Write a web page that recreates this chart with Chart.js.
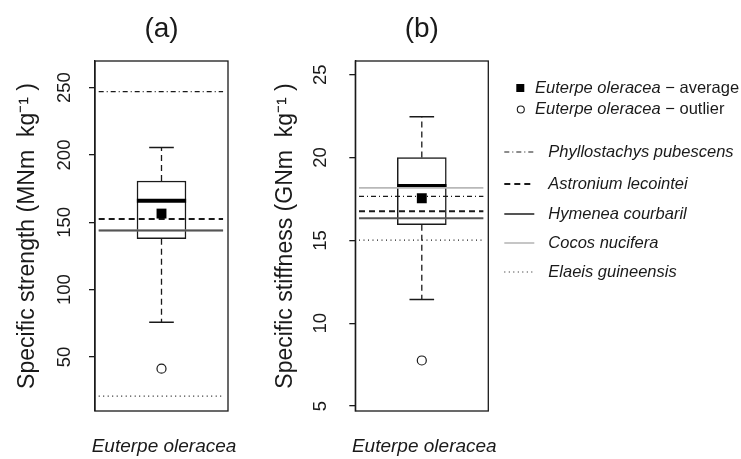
<!DOCTYPE html>
<html>
<head>
<meta charset="utf-8">
<script src="https://cdn.jsdelivr.net/npm/chart.js@4.4.1/dist/chart.umd.min.js"></script>
<style>
  html, body { margin: 0; padding: 0; background: #fff; }
  #wrap { position: relative; width: 741px; height: 459px; }
  canvas { position: absolute; top: 0; }
  #chartA { left: 0; }
  #chartB { left: 250px; }
</style>
</head>
<body>
<div id="wrap">
  <canvas id="chartA" width="250" height="459"></canvas>
  <canvas id="chartB" width="491" height="459"></canvas>
</div>
<script>
const FONT = "'Liberation Sans', Arial, Helvetica, sans-serif";
const INK = '#1a1a1a';

const category = 'Euterpe oleracea';
const panelTitles = ['(a)', '(b)'];
const yTitles = ['Specific strength (MNm  kg\u207B\u00B9 )', 'Specific stiffness (GNm  kg\u207B\u00B9 )'];
const refSpecies = ['Phyllostachys pubescens', 'Astronium lecointei', 'Hymenea courbaril', 'Cocos nucifera', 'Elaeis guineensis'];

// box stats: lower whisker, Q1, median, Q3, upper whisker
const strengthStats = [75.8, 137.9, 166, 180.7, 205.5];
const strengthMean = [156.5];
const strengthOutliers = [41.3];
const strengthRefs = [247, 152.5, 144, 144, 21];
const strengthTicks = [50, 100, 150, 200, 250];

const stiffnessStats = [11.43, 15.95, 18.29, 20.0, 22.47];
const stiffnessMean = [17.54];
const stiffnessOutliers = [7.75];
const stiffnessRefs = [17.66, 16.76, 16.33, 18.17, 15.02];
const stiffnessTicks = [5, 10, 15, 20, 25];

// look of each reference line, same order as refSpecies
const refStyles = [
  { color: INK, width: 1.2, dash: [5, 3, 1, 3] },
  { color: INK, width: 2, dash: [6, 4] },
  { color: '#555', width: 2, dash: [] },
  { color: '#b8b8b8', width: 1.6, dash: [] },
  { color: INK, width: 1.2, dash: [1, 3.5] }
];

const LINE_FROM = 0.49, LINE_TO = 1.5;
const legendRows = [152, 184, 214, 243, 272];

function boxDatasets(stats, mean, outliers, refs) {
  const [lo, q1, med, q3, hi] = stats;
  const sets = [
    { type: 'bar', data: [{ x: 1, y: [q1, q3] }], backgroundColor: '#fff', borderColor: INK,
      borderWidth: 1.5, borderSkipped: false, barThickness: 49, order: 20 },
    // whiskers
    { type: 'line', data: [{ x: 1, y: q3 }, { x: 1, y: hi }, { x: 1, y: null }, { x: 1, y: q1 }, { x: 1, y: lo }],
      borderColor: INK, borderWidth: 1.3, borderDash: [6, 4], order: 19 },
    // caps
    { type: 'line', data: [{ x: 0.9, y: hi }, { x: 1.1, y: hi }, { x: 1, y: null }, { x: 0.9, y: lo }, { x: 1.1, y: lo }],
      borderColor: INK, borderWidth: 1.5, order: 19 },
    // median
    { type: 'line', data: [{ x: 0.8, y: med }, { x: 1.2, y: med }], borderColor: '#000', borderWidth: 4, order: 18 }
  ];
  refs.forEach((v, i) => {
    const st = refStyles[i];
    sets.push({ type: 'line', label: refSpecies[i], data: [{ x: LINE_FROM, y: v }, { x: LINE_TO, y: v }],
      borderColor: st.color, borderWidth: st.width, borderDash: st.dash, order: 5 + i });
  });
  sets.push({ type: 'line', label: 'average', data: mean.map(v => ({ x: 1, y: v })), showLine: false,
    pointStyle: 'rect', pointRadius: 7, backgroundColor: '#000', borderColor: '#000', borderWidth: 0, order: 1 });
  sets.push({ type: 'line', label: 'outlier', data: outliers.map(v => ({ x: 1, y: v })), showLine: false,
    pointStyle: 'circle', pointRadius: 4.5, backgroundColor: '#fff', borderColor: INK, borderWidth: 1.2, order: 1 });
  return sets;
}

// plot frame + category name under it (the axis title would be squeezed to the plot width)
const framePlugin = {
  id: 'frame',
  afterDatasetsDraw(chart) {
    const { ctx, chartArea: a } = chart;
    ctx.save();
    ctx.strokeStyle = INK;
    ctx.lineWidth = 1.3;
    ctx.strokeRect(a.left, a.top, a.right - a.left, a.bottom - a.top);
    ctx.font = `italic 19px ${FONT}`;
    ctx.fillStyle = INK;
    ctx.textAlign = 'center';
    ctx.textBaseline = 'middle';
    ctx.fillText(category, (a.left + a.right) / 2 + 2.5, 447);
    ctx.restore();
  }
};

// legend to the right of panel (b)
const legendPlugin = {
  id: 'sideLegend',
  afterDraw(chart) {
    const ctx = chart.ctx;
    const x0 = chart.chartArea.right;
    const ds = chart.data.datasets;
    const size = 16.5;
    ctx.save();
    ctx.textBaseline = 'middle';
    ctx.fillStyle = INK;

    const twoPart = (x, y, it, rest) => {
      ctx.font = `italic ${size}px ${FONT}`;
      ctx.fillText(it, x, y);
      const w = ctx.measureText(it).width;
      ctx.font = `${size}px ${FONT}`;
      ctx.fillText(rest, x + w, y);
    };

    // average marker
    ctx.fillStyle = '#000';
    ctx.fillRect(x0 + 28, 84, 8, 8);
    ctx.fillStyle = INK;
    twoPart(x0 + 46.7, 88, category, ' \u2212 average');
    // outlier marker
    ctx.beginPath();
    ctx.arc(x0 + 32.5, 109.5, 3.5, 0, Math.PI * 2);
    ctx.strokeStyle = INK;
    ctx.lineWidth = 1.1;
    ctx.stroke();
    twoPart(x0 + 46.7, 109.5, category, ' \u2212 outlier');

    ds.filter(d => refSpecies.includes(d.label)).forEach((d, i) => {
      const y = legendRows[i];
      ctx.beginPath();
      ctx.setLineDash(d.borderDash);
      ctx.strokeStyle = d.borderColor;
      ctx.lineWidth = d.borderWidth;
      ctx.moveTo(x0 + 16, y);
      ctx.lineTo(x0 + 46, y);
      ctx.stroke();
      ctx.setLineDash([]);
      ctx.font = `italic ${size}px ${FONT}`;
      ctx.fillStyle = INK;
      ctx.fillText(d.label, x0 + 60, y);
    });
    ctx.restore();
  }
};

function makeChart(id, cfg) {
  return new Chart(document.getElementById(id), {
    type: 'bar',
    data: { datasets: boxDatasets(cfg.stats, cfg.mean, cfg.outliers, cfg.refs) },
    options: {
      responsive: false,
      animation: false,
      layout: { padding: { left: 0, top: 0, bottom: 48, right: cfg.padRight } },
      elements: { point: { radius: 0 }, line: { tension: 0 } },
      plugins: {
        legend: { display: false },
        tooltip: { enabled: false },
        title: {
          display: true, text: cfg.title, fullSize: false, color: INK,
          font: { family: FONT, size: 28, weight: 'normal' },
          padding: { top: 12, bottom: 15.4 }
        }
      },
      scales: {
        x: { type: 'linear', min: 0.46, max: 1.54, offset: false, display: false },
        y: {
          type: 'linear', position: 'left', min: cfg.min, max: cfg.max,
          afterBuildTicks: s => { s.ticks = cfg.ticks.map(v => ({ value: v })); },
          afterFit: s => { s.width = cfg.axisWidth; },
          ticks: { color: INK, font: { family: FONT, size: 18.5 }, minRotation: 90, maxRotation: 90,
            crossAlign: 'center', padding: cfg.tickPad, autoSkip: false },
          grid: { display: true, drawOnChartArea: false, drawTicks: true, tickLength: 6, color: INK, lineWidth: 1.3 },
          border: { display: true, color: INK, width: 1.3 },
          title: { display: true, text: cfg.yTitle, align: 'center', color: INK,
            font: { family: FONT, size: 23 }, padding: { top: cfg.titlePad, bottom: 0 } }
        }
      }
    },
    plugins: cfg.legend ? [framePlugin, legendPlugin] : [framePlugin]
  });
}

makeChart('chartA', {
  title: panelTitles[0], yTitle: yTitles[0],
  stats: strengthStats, mean: strengthMean, outliers: strengthOutliers, refs: strengthRefs,
  ticks: strengthTicks, min: 9.9, max: 269.8,
  axisWidth: 95, padRight: 22, tickPad: 8.6, titlePad: 14, legend: false
});

makeChart('chartB', {
  title: panelTitles[1], yTitle: yTitles[1],
  stats: stiffnessStats, mean: stiffnessMean, outliers: stiffnessOutliers, refs: stiffnessRefs,
  ticks: stiffnessTicks, min: 4.7, max: 25.83,
  axisWidth: 105.3, padRight: 252.7, tickPad: 18.2, titlePad: 22, legend: true
});
</script>
</body>
</html>
